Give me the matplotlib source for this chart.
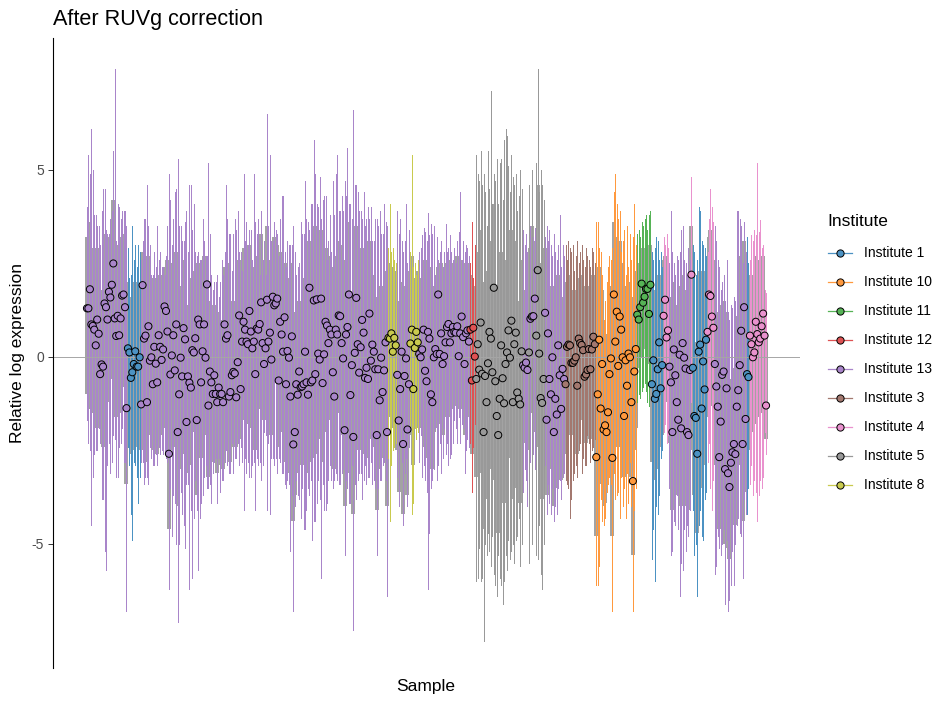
import matplotlib
matplotlib.use("Agg")
import matplotlib.pyplot as plt
import numpy as np
from matplotlib.lines import Line2D
from matplotlib.transforms import Affine2D

plt.rcParams['font.family'] = ['Liberation Sans', 'DejaVu Sans']
plt.rcParams['axes.unicode_minus'] = False

# ---------------- data ----------------
institute_names = ["Institute 1", "Institute 10", "Institute 11", "Institute 12", "Institute 13",
                   "Institute 3", "Institute 4", "Institute 5", "Institute 8"]
institute_colors = ["#4C92C3", "#FF993E", "#56B356", "#DE5253", "#A985CA",
                    "#A3786F", "#E992CE", "#999999", "#C9CA4E"]

# sample order: (institute, number of consecutive samples)
sample_runs = [
    ("Institute 13", 28), ("Institute 1", 9), ("Institute 13", 169), ("Institute 8", 6),
    ("Institute 13", 9), ("Institute 8", 6), ("Institute 13", 35), ("Institute 12", 4),
    ("Institute 5", 32),
    ("Institute 13", 4), ("Institute 5", 1), ("Institute 13", 1), ("Institute 5", 1),
    ("Institute 13", 2), ("Institute 5", 6), ("Institute 13", 14),
    ("Institute 3", 21), ("Institute 10", 28), ("Institute 11", 10), ("Institute 1", 8),
    ("Institute 4", 4), ("Institute 13", 15), ("Institute 4", 1), ("Institute 1", 10),
    ("Institute 4", 5), ("Institute 13", 22), ("Institute 1", 2), ("Institute 4", 12),
]

median = [
    1.30,1.30,1.81,0.87,0.83,0.73,0.31,1.00,0.62,-0.46,-0.20,-0.26,1.43,1.33,1.00,1.74,1.59,1.93,2.50,1.03,0.56,1.10,0.58,1.03,1.64,1.67,1.33,-1.37,
    0.23,0.12,-0.56,-0.41,-0.19,0.15,-0.26,-0.26,-0.01,
    -1.27,1.92,0.49,0.57,-1.21,0.82,-0.10,-0.01,-0.73,0.27,
    -0.18,-0.68,0.58,0.27,-0.08,0.20,1.35,1.23,0.68,-2.59,
    -0.47,0.04,0.58,-0.36,0.87,-2.01,-1.00,-0.02,-0.52,0.77,
    0.47,-1.74,-0.52,-0.69,-0.82,0.18,0.12,0.50,-1.69,1.00,
    0.87,-0.68,0.15,0.87,-0.02,1.94,-1.30,-0.39,-0.68,-0.99,
    -0.49,-0.99,-1.21,-0.82,-0.99,-0.99,-1.21,0.87,0.49,0.58,
    -1.06,-0.94,-0.49,-0.40,-0.44,-1.08,-0.14,1.11,-0.86,0.41,
    0.94,0.73,0.41,0.34,1.23,0.68,0.23,0.41,-0.46,0.76,
    0.73,0.88,1.46,
    0.37,-0.19,0.23,1.53,0.41,0.65,-0.07,1.61,1.38,1.43,
    1.56,-0.63,0.94,0.60,0.14,1.06,-0.73,0.16,-0.02,-1.06,
    0.55,-2.34,-2.01,-0.73,-1.01,-0.39,-0.81,-0.79,-0.73,0.14,
    -0.68,-1.01,1.85,-0.68,-0.63,1.51,-0.46,1.54,0.09,-0.07,
    1.56,-0.70,0.07,0.94,0.84,0.37,0.73,0.60,-0.41,-1.06,
    0.73,0.60,1.11,1.09,0.37,-0.04,-1.96,0.60,0.80,1.67,
    -1.02,-0.22,-2.14,0.11,1.58,0.34,-0.42,0.26,0.99,0.65,
    -0.56,-0.29,-0.59,1.16,-0.10,0.33,0.14,-0.33,-2.09,-0.33,
    -1.16,-0.02,-0.94,-0.36,0.39,-2.01,
    0.51,0.49,0.63,0.14,0.51,0.31,
    -0.48,-1.70,-0.86,0.14,-2.33,-0.51,-0.04,-1.94,-0.73,
    0.36,0.73,-0.86,0.24,0.67,0.39,
    0.08,-0.01,0.20,0.73,-0.37,-0.65,0.67,0.49,-1.00,-1.21,-0.01,
    0.21,0.08,1.67,0.08,0.63,-0.19,0.02,0.39,0.80,0.88,0.39,0.63,0.80,0.67,0.65,0.82,0.02,0.63,1.08,0.53,-0.19,0.63,0.71,0.41,
    0.73,-0.63,0.78,0.01,
    -0.59,0.34,-0.34,0.92,-0.45,-2.01,-0.51,-1.21,-0.17,0.67,0.49,-0.41,1.85,-0.65,-1.58,-2.09,-1.12,0.31,-0.57,-1.24,-0.19,0.12,0.71,-0.02,0.97,-1.21,0.34,0.65,-0.95,-1.12,-1.27,0.15,
    -0.22,-0.29,-0.15,-0.35,0.12,1.02,1.08,1.09,1.56,0.57,2.32,0.09,-1.10,-1.23,-0.59,1.18,-1.68,0.63,-0.59,-1.00,-0.01,-2.01,-1.12,-1.54,0.31,-0.49,-1.39,-0.32,-0.59,
    -0.73,0.27,0.33,0.31,-0.16,-0.16,-0.10,-0.01,-0.77,0.49,0.37,0.32,0.18,-0.53,-0.47,-0.35,0.21,-0.33,0.20,0.54,0.34,
    -2.68,-1.00,0.46,-1.38,-0.19,-1.94,-1.83,-2.01,-1.48,-0.46,-0.04,-2.70,1.67,0.41,1.21,-0.24,1.08,0.73,-0.01,-1.58,-0.09,-0.77,0.09,-0.01,-1.21,-3.32,-0.39,0.21,
    1.13,1.00,1.33,1.96,1.45,1.61,1.82,1.82,1.15,1.93,
    -0.73,-0.09,-1.12,-0.99,-0.33,0.39,-0.84,-0.22,
    1.10,1.53,0.52,0.71,
    -0.26,-0.68,-2.01,0.20,-0.49,-1.21,-1.68,0.06,-1.91,0.37,-0.02,-0.31,-2.01,-2.09,-0.35,
    2.20,
    -0.29,-1.58,-1.63,-2.59,0.14,0.33,-1.38,-0.12,-0.87,0.46,
    0.67,1.67,1.63,1.08,0.78,
    -0.19,-0.79,-1.33,-2.68,-1.73,-0.48,-0.39,-3.00,-0.84,-3.11,-3.48,-2.83,-2.55,-2.33,-2.60,-1.33,-0.89,-0.22,0.70,-2.33,1.33,-1.66,
    -0.46,-0.54,
    0.57,0.34,-0.01,0.12,0.94,0.61,0.39,0.49,0.82,1.16,0.57,-1.30,
]

upper_whisker = [
    4.0,5.4,4.9,6.1,5.0,3.8,3.8,3.5,3.5,3.0,3.9,4.5,4.5,3.4,3.3,3.3,3.7,3.9,5.5,7.7,3.1,4.1,4.0,3.7,3.9,3.9,3.9,3.5,
    2.9,2.1,2.2,3.5,2.6,3.0,2.4,3.0,2.8,
    2.6,3.1,3.7,3.7,4.6,3.5,3.0,2.2,2.2,2.8,
    2.4,3.5,2.6,2.8,2.4,2.4,2.2,2.7,3.5,4.9,
    4.2,3.0,3.7,4.4,4.5,5.3,3.5,3.5,3.1,3.1,
    3.6,3.9,2.8,4.6,4.6,3.4,4.1,2.8,2.7,2.8,
    2.6,2.6,3.7,3.1,2.7,2.7,5.2,3.3,2.2,1.8,
    2.0,2.0,2.2,1.6,2.0,2.6,2.2,2.8,4.6,3.7,
    3.3,3.3,2.3,3.3,3.7,3.4,3.9,2.8,2.8,2.3,
    4.9,3.1,3.6,3.0,3.4,3.4,2.6,4.9,3.6,3.3,
    3.7,2.2,3.9,
    2.6,3.1,2.2,6.5,3.5,5.4,3.1,3.1,3.6,3.4,
    3.3,2.7,3.7,4.3,4.3,2.8,2.4,3.1,3.0,3.0,
    3.0,3.5,2.8,2.2,2.4,2.5,3.6,3.3,3.3,4.7,
    3.7,3.6,3.4,4.1,4.1,5.8,4.9,4.1,4.0,4.8,
    3.7,4.2,4.3,4.3,2.6,3.1,3.8,2.8,4.7,3.8,
    4.9,5.4,3.9,3.9,4.3,3.9,4.7,4.3,5.6,4.1,
    4.1,3.7,6.6,4.6,4.6,4.4,3.9,3.9,3.7,4.4,
    3.5,3.7,4.0,3.7,4.0,3.1,3.1,3.7,3.7,3.5,
    3.9,3.3,3.3,4.1,3.6,3.5,
    2.9,4.1,2.8,2.9,2.6,2.5,
    3.9,3.3,3.7,3.1,2.8,3.1,4.1,2.5,3.4,
    2.8,5.4,2.4,2.5,2.2,2.6,
    2.8,2.9,3.25,3.45,3.35,3.1,3.85,3.25,3.55,3.3,3.5,
    2.2,3.2,2.6,2.8,3.1,2.4,2.8,3.55,2.8,2.9,3.25,2.8,2.6,2.9,2.5,3.1,3.35,4.4,2.6,3.1,2.8,3.0,2.9,2.7,
    2.5,3.6,2.1,3.0,
    5.4,4.9,4.7,5.5,4.6,4.9,4.4,3.5,5.5,4.5,7.1,4.1,4.9,4.7,5.3,4.1,5.2,5.3,4.2,5.8,6.1,5.9,5.1,4.4,5.4,4.8,4.6,4.9,3.9,4.3,5.0,4.5,
    3.4,3.0,3.3,2.8,4.6,3.5,5.0,3.2,3.45,5.2,7.7,4.4,5.0,4.6,4.2,3.2,3.5,3.1,3.4,3.0,2.7,3.3,2.8,2.6,3.0,3.8,2.4,3.0,2.7,
    3.0,2.6,3.1,2.9,2.8,3.0,2.3,2.7,3.1,2.5,2.8,3.0,2.6,2.4,2.9,2.7,2.6,2.4,2.9,2.8,2.5,
    3.6,3.6,2.9,2.8,2.2,1.0,1.5,2.0,2.4,2.7,2.6,2.9,4.4,4.9,4.1,3.7,3.9,2.8,3.1,3.4,2.2,3.5,2.4,3.3,2.6,3.2,4.1,3.0,
    3.3,3.4,3.2,3.6,3.5,3.7,3.8,3.4,3.8,3.9,
    2.8,2.6,2.9,3.2,3.1,2.6,2.8,2.4,
    3.2,3.0,3.3,2.9,
    2.5,3.9,2.8,2.5,2.2,2.7,2.6,2.8,3.4,3.5,2.6,2.5,2.2,2.9,2.6,
    4.8,
    3.0,2.8,2.2,2.6,4.0,3.9,3.1,3.0,2.9,2.7,
    2.8,3.7,4.5,4.0,3.6,
    3.5,3.1,2.6,2.4,1.8,2.0,2.2,1.5,2.6,1.2,1.0,1.4,1.3,1.6,1.5,3.9,3.9,3.7,3.5,2.5,3.6,2.8,
    3.2,2.5,
    2.6,3.25,3.1,3.4,3.25,5.2,3.35,3.65,2.9,3.0,1.8,1.7,
]

lower_whisker = [
    -1.7,-2.3,-2.5,-4.5,-3.2,-2.6,-2.5,-2.5,-1.9,-2.3,-3.8,-3.8,-5.2,-5.7,-2.9,-2.3,-3.1,-2.8,-2.1,-2.2,-3.2,-3.2,-2.4,-2.3,-1.9,-2.8,-2.8,-6.8,
    -2.4,-2.9,-4.2,-4.9,-2.8,-2.9,-3.2,-3.9,-3.2,
    -2.8,-2.8,-3.4,-3.2,-3.2,-3.4,-2.4,-2.7,-2.9,-2.9,
    -2.6,-2.9,-2.4,-2.6,-2.5,-2.6,-2.6,-2.7,-2.8,-6.2,
    -3.5,-4.8,-3.7,-3.9,-5.0,-7.1,-5.0,-3.6,-4.2,-4.5,
    -5.1,-3.4,-3.4,-6.2,-4.1,-5.9,-4.3,-3.3,-4.1,-5.7,
    -4.3,-3.9,-3.7,-3.2,-2.9,-3.5,-3.5,-3.4,-3.9,-3.1,
    -2.8,-2.7,-3.9,-2.7,-3.6,-3.3,-3.3,-2.8,-2.5,-2.9,
    -3.1,-3.1,-2.3,-3.1,-2.7,-2.7,-2.3,-2.9,-2.4,-2.8,
    -4.1,-2.7,-3.1,-2.8,-3.2,-3.2,-2.9,-2.8,-4.1,-2.7,
    -2.9,-2.8,-3.3,
    -2.9,-2.0,-2.1,-4.1,-2.3,-4.2,-2.7,-2.7,-2.9,-2.7,
    -3.1,-2.7,-2.8,-3.1,-3.1,-3.4,-3.5,-3.3,-3.4,-5.2,
    -3.7,-6.8,-4.0,-3.3,-3.7,-3.8,-4.3,-3.5,-4.6,-4.6,
    -4.1,-3.5,-3.7,-3.3,-4.9,-4.4,-4.4,-3.9,-3.3,-3.8,
    -5.9,-3.4,-4.1,-4.1,-3.9,-3.3,-2.9,-3.3,-3.5,-3.3,
    -3.1,-3.3,-3.4,-3.4,-3.1,-3.0,-5.3,-3.3,-3.5,-3.9,
    -3.9,-2.9,-7.3,-3.4,-3.8,-3.3,-3.1,-3.1,-3.8,-3.3,
    -2.9,-3.4,-3.2,-3.2,-2.8,-3.4,-3.3,-3.5,-5.3,-3.5,
    -3.3,-3.3,-2.9,-2.8,-3.3,-6.4,
    -2.7,-4.4,-2.9,-2.5,-2.4,-2.3,
    -3.2,-4.0,-2.3,-2.8,-4.5,-3.1,-2.7,-4.0,-2.4,
    -1.9,-4.2,-3.9,-1.9,-2.2,-2.0,
    -2.8,-2.1,-3.2,-2.9,-3.3,-3.6,-6.2,-4.7,-3.5,-3.3,-3.0,
    -1.9,-3.3,-2.9,-2.3,-3.1,-2.7,-1.9,-2.6,-2.3,-2.9,-2.7,-2.6,-2.3,-1.7,-1.9,-2.3,-1.6,-2.3,-1.8,-1.9,-3.1,-2.5,-2.2,-2.4,
    -2.3,-3.6,-2.4,-1.8,
    -6.0,-5.9,-5.1,-6.0,-5.9,-7.6,-5.0,-5.3,-4.7,-5.2,-5.6,-4.8,-5.8,-6.1,-6.4,-5.3,-5.9,-6.1,-6.6,-6.0,-5.3,-5.7,-4.9,-5.4,-5.2,-5.0,-5.5,-4.9,-4.8,-4.3,-5.6,-5.0,
    -3.6,-3.0,-3.3,-4.0,-5.5,-2.8,-5.0,-2.6,-3.0,-5.3,-5.4,-4.5,-5.8,-6.2,-5.0,-2.9,-4.2,-3.4,-3.9,-4.2,-3.5,-4.4,-4.0,-4.2,-3.5,-3.3,-3.8,-3.2,-3.1,
    -3.3,-3.4,-3.5,-4.3,-3.8,-3.3,-3.1,-2.9,-3.2,-2.5,-2.3,-3.1,-2.7,-2.9,-2.9,-2.1,-2.3,-2.8,-2.5,-2.4,-2.2,
    -6.1,-6.1,-5.6,-3.8,-4.4,-4.5,-4.3,-3.6,-3.4,-3.2,-3.4,-6.8,-3.1,-3.8,-3.7,-3.6,-4.3,-3.2,-4.0,-3.5,-4.3,-3.1,-3.9,-2.8,-4.0,-6.8,-4.1,-3.5,
    -1.2,-1.0,-1.1,-0.9,-0.8,-0.7,-0.9,-1.2,-1.3,-0.8,
    -5.4,-4.6,-6.0,-4.0,-4.2,-3.7,-2.7,-2.5,
    -2.0,-1.8,-2.3,-2.1,
    -3.5,-5.3,-5.2,-4.4,-4.5,-3.7,-4.6,-6.4,-5.5,-5.7,-4.6,-5.2,-4.5,-4.8,-4.1,
    -1.2,
    -4.1,-5.3,-5.0,-6.4,-4.5,-4.1,-4.8,-4.9,-3.8,-3.6,
    -2.8,-2.3,-3.5,-4.1,-3.3,
    -5.8,-5.6,-4.8,-5.1,-5.3,-5.0,-4.6,-6.6,-4.9,-6.8,-6.5,-6.1,-5.2,-6.1,-5.0,-4.5,-4.3,-4.7,-4.8,-5.9,-3.8,-4.2,
    -4.2,-3.5,
    -3.4,-2.9,-3.7,-3.3,-3.6,-4.4,-3.7,-3.3,-3.5,-3.2,-2.0,-2.6,
]

upper_hinge = [
    3.2,3.1,3.6,2.9,2.7,2.6,2.3,2.9,2.6,1.5,1.8,1.7,3.3,3.0,2.8,2.9,3.2,3.4,4.2,3.0,2.5,3.0,2.6,2.9,3.2,3.3,3.1,0.7,
    2.0,1.6,1.3,1.6,1.7,2.0,1.6,1.7,1.9,
    0.7,2.8,2.4,2.5,0.8,2.7,1.8,1.7,1.2,2.1,
    1.6,1.3,2.2,2.2,1.8,2.0,2.0,2.4,2.6,-0.6,
    1.5,2.0,2.5,1.6,2.8,0.0,1.0,1.9,1.5,2.6,
    2.4,0.3,1.4,1.3,1.2,2.1,2.1,2.3,0.3,2.5,
    2.3,1.3,2.1,2.7,1.9,2.5,0.7,1.5,1.2,1.0,
    1.4,1.0,0.8,1.2,1.0,1.0,0.8,2.4,2.4,2.5,
    0.9,1.0,1.4,1.5,1.5,0.9,1.8,2.6,1.1,2.0,
    2.9,2.6,2.4,2.3,3.0,2.6,2.1,2.4,1.5,2.6,
    2.7,2.0,3.3,
    2.2,1.8,1.8,3.5,2.4,2.6,1.9,2.9,3.2,3.0,
    3.0,1.3,2.8,2.6,2.1,2.5,1.2,2.1,1.9,0.9,
    2.5,-0.4,0.0,1.2,0.9,1.5,1.2,1.2,1.2,2.1,
    1.3,0.9,3.1,1.3,1.3,3.5,1.5,3.5,2.0,1.9,
    3.4,1.3,2.0,2.9,2.3,2.3,2.7,2.4,1.5,0.9,
    2.7,2.6,3.1,3.0,2.3,1.9,0.0,2.6,2.8,3.6,
    0.9,1.7,-0.2,2.1,3.5,2.3,1.5,2.2,2.9,2.6,
    1.4,1.7,1.3,3.1,1.8,2.2,2.1,1.6,-0.1,1.6,
    0.8,1.9,1.0,1.6,2.3,0.0,
    2.4,2.5,2.4,2.0,2.3,2.2,
    1.5,0.3,1.1,2.0,-0.3,1.4,1.9,0.0,1.2,
    2.3,2.7,1.1,2.1,2.0,2.3,
    2.0,1.9,2.1,2.6,1.6,1.3,2.6,2.4,1.0,0.8,1.9,
    1.9,2.0,2.4,2.0,2.5,1.7,1.9,2.3,2.5,2.6,2.3,2.4,2.4,2.5,2.3,2.7,1.9,2.6,2.4,2.5,1.7,2.5,2.5,2.3,
    2.2,1.4,1.9,1.9,
    1.9,2.8,2.2,3.4,2.0,0.5,2.0,1.3,2.3,3.1,3.0,2.1,4.1,1.9,0.9,0.4,1.4,2.8,1.9,1.3,2.3,2.6,3.1,2.5,3.4,1.3,2.8,3.1,1.5,1.4,1.2,2.6,
    1.7,1.6,1.8,1.6,2.6,2.9,3.5,2.9,3.1,3.0,4.6,2.5,1.4,1.3,1.9,2.9,0.3,2.5,1.4,1.0,1.9,0.0,0.9,0.4,2.2,1.5,0.6,1.6,1.4,
    1.3,2.0,2.2,2.1,1.7,1.8,1.6,1.8,1.3,2.1,2.1,2.2,1.9,1.4,1.5,1.6,1.9,1.5,1.9,2.2,2.0,
    -0.6,1.0,2.4,0.6,1.8,0.2,0.3,0.0,0.6,1.5,1.9,-0.7,3.6,2.4,3.2,1.8,3.1,2.5,1.9,0.4,1.9,1.2,2.0,1.9,0.8,-1.3,1.6,2.2,
    2.3,2.2,2.5,2.9,2.6,2.8,2.9,2.8,2.4,3.0,
    1.2,1.8,0.9,1.0,1.6,2.2,1.0,1.6,
    2.6,2.7,2.3,2.4,
    1.6,1.3,0.0,2.0,1.4,0.7,0.3,1.9,0.1,2.2,1.8,1.6,-0.1,-0.1,1.5,
    3.5,
    1.7,0.4,0.3,-0.5,2.2,2.3,0.6,1.8,1.1,2.3,
    2.4,3.2,3.4,2.9,2.6,
    1.8,1.2,0.7,-0.7,0.3,1.4,1.5,-1.0,1.2,-1.1,-1.4,-0.8,-0.6,-0.3,-0.6,0.7,1.1,1.8,2.7,-0.3,3.1,0.3,
    1.5,1.3,
    2.2,2.2,1.9,2.1,2.7,2.6,2.3,2.5,2.5,2.7,1.5,0.6,
]

lower_hinge = [
    -1.0,-0.8,-0.3,-1.4,-1.3,-1.5,-1.9,-1.2,-1.4,-1.9,-2.3,-2.4,-0.8,-0.9,-1.2,-0.5,-0.6,-0.3,0.4,-1.1,-1.6,-1.0,-1.5,-1.0,-0.5,-0.4,-0.8,-3.4,
    -1.8,-1.9,-2.6,-2.5,-2.2,-1.9,-2.3,-2.4,-2.1,
    -2.5,-0.2,-1.6,-1.5,-2.8,-1.3,-2.0,-2.1,-2.5,-1.8,
    -2.2,-2.6,-1.5,-1.8,-2.1,-1.9,-0.7,-0.8,-1.4,-4.6,
    -2.5,-2.1,-1.5,-2.4,-1.2,-4.0,-3.0,-2.1,-2.6,-1.3,
    -1.6,-3.1,-2.6,-2.8,-2.9,-2.0,-2.0,-1.6,-3.7,-1.1,
    -1.2,-2.7,-2.0,-1.2,-2.1,-0.2,-3.2,-2.5,-2.7,-2.8,
    -2.4,-2.5,-3.1,-2.5,-2.9,-2.9,-3.0,-1.2,-1.6,-1.5,
    -2.8,-2.8,-2.0,-2.4,-2.3,-2.4,-2.0,-1.0,-2.2,-1.7,
    -1.2,-1.4,-1.7,-1.8,-0.9,-1.4,-1.9,-1.7,-2.5,-1.4,
    -1.4,-1.2,-0.6,
    -1.7,-1.7,-1.7,-0.6,-1.7,-1.5,-2.1,-0.5,-0.7,-0.6,
    -0.5,-2.4,-1.2,-1.5,-2.0,-1.1,-2.8,-2.0,-2.2,-3.1,
    -1.6,-4.4,-3.7,-2.8,-3.1,-2.5,-2.9,-2.9,-2.8,-2.0,
    -2.8,-3.1,-0.3,-2.8,-2.7,-0.6,-2.6,-0.6,-2.0,-2.2,
    -0.5,-2.8,-2.0,-1.2,-1.2,-1.7,-1.4,-1.5,-2.5,-3.0,
    -1.4,-1.5,-1.0,-1.0,-1.7,-2.1,-4.0,-1.5,-1.3,-0.4,
    -3.1,-2.3,-4.2,-2.0,-0.5,-1.8,-2.5,-1.8,-1.1,-1.4,
    -2.6,-2.3,-2.7,-0.9,-2.2,-1.8,-2.0,-2.4,-4.1,-2.4,
    -3.0,-2.1,-2.7,-2.4,-1.7,-4.0,
    -1.6,-1.6,-1.4,-1.9,-1.6,-1.8,
    -2.5,-3.6,-2.0,-2.0,-4.2,-2.6,-2.2,-3.7,-2.1,
    -1.5,-1.4,-2.9,-1.6,-1.5,-1.6,
    -1.9,-1.8,-1.8,-1.3,-2.4,-2.7,-1.4,-1.6,-2.9,-3.0,-2.0,
    -1.5,-1.9,-0.3,-1.8,-1.4,-2.1,-1.5,-1.6,-1.2,-1.1,-1.6,-1.4,-1.2,-1.3,-1.2,-1.2,-1.4,-1.4,-0.9,-1.4,-2.1,-1.4,-1.3,-1.6,
    -1.3,-2.6,-1.3,-1.5,
    -3.2,-2.3,-3.0,-1.8,-3.1,-4.6,-3.1,-3.8,-2.8,-1.9,-2.2,-3.0,-0.8,-3.3,-4.2,-4.7,-3.7,-2.3,-3.2,-3.9,-2.8,-2.5,-1.9,-2.7,-1.7,-3.8,-2.3,-2.0,-3.5,-3.7,-3.9,-2.5,
    -2.3,-2.3,-2.2,-2.4,-2.5,-1.0,-1.5,-0.9,-0.5,-2.0,-0.3,-2.4,-3.6,-3.8,-3.1,-0.9,-3.7,-1.4,-2.6,-3.0,-2.1,-4.0,-3.1,-3.5,-1.7,-2.5,-3.3,-2.3,-2.6,
    -2.6,-1.7,-1.6,-1.8,-2.1,-2.1,-2.0,-1.9,-2.6,-1.5,-1.5,-1.7,-1.7,-2.3,-2.3,-1.8,-1.7,-2.2,-1.7,-1.4,-1.6,
    -4.8,-3.1,-1.7,-3.4,-2.3,-4.0,-3.9,-3.3,-3.0,-2.6,-2.2,-4.8,-0.4,-1.7,-0.9,-2.4,-1.0,-1.4,-2.1,-3.2,-2.2,-2.7,-2.0,-2.1,-3.2,-5.3,-2.5,-1.9,
    -0.3,-0.2,0.0,0.5,0.2,0.3,0.5,0.4,-0.2,0.6,
    -2.8,-2.1,-3.3,-3.0,-2.4,-1.6,-2.4,-2.1,
    -0.6,-0.3,-1.2,-1.0,
    -2.3,-2.8,-4.1,-2.0,-2.6,-3.2,-3.7,-2.2,-4.0,-1.9,-2.3,-2.5,-4.0,-4.1,-2.5,
    0.6,
    -2.4,-3.7,-3.7,-4.7,-2.1,-1.9,-3.5,-2.3,-2.9,-1.6,
    -1.3,-0.3,-0.4,-1.0,-1.3,
    -2.4,-2.9,-3.4,-4.6,-3.8,-2.6,-2.5,-5.0,-2.9,-5.1,-5.4,-4.8,-4.5,-4.3,-4.5,-3.4,-2.9,-2.3,-1.4,-4.4,-0.7,-3.6,
    -2.5,-2.5,
    -1.4,-1.5,-2.0,-1.8,-1.1,-1.4,-1.6,-1.5,-1.2,-0.8,-1.2,-2.2,
]

# ---------------- build ----------------
institute = [name for name, n in sample_runs for _ in range(n)]
n = len(institute)
lens = dict(median=len(median), uw=len(upper_whisker), lw=len(lower_whisker),
            uh=len(upper_hinge), lh=len(lower_hinge), inst=n)
assert len(set(lens.values())) == 1, lens

color_of = dict(zip(institute_names, institute_colors))
sample = np.arange(1, n + 1)
cols = [color_of[i] for i in institute]

W, H = 953, 706
fig = plt.figure(figsize=(W / 100, H / 100), dpi=100)
fig.patch.set_facecolor("white")
ax = fig.add_axes([53 / W, 1 - 668 / H, (800 - 53) / W, (668 - 38) / H])

# grey interquartile band (wide, underneath), coloured min-max lines on top, then medians
ax.vlines(sample, lower_hinge, upper_hinge, colors="#a3a3a3", linewidth=1.5,
          antialiased=False, zorder=1)
ax.vlines(sample, lower_whisker, upper_whisker, colors=cols, linewidth=0.7,
          antialiased=False, zorder=2)
ax.axhline(0, color="#a6a6a6", linewidth=0.7, zorder=2.5)
ax.scatter(sample, median, s=26, c=cols, edgecolors="black", linewidths=0.7, zorder=3)

span = n - 1
ax.set_xlim(1 - 0.05 * span, n + 0.05 * span)
ax.set_ylim(-8.32, 8.53)
ax.set_yticks([-5, 0, 5])
ax.set_yticklabels(["-5", "0", "5"])
ax.set_xticks([])
for s in ("top", "right", "bottom"):
    ax.spines[s].set_visible(False)
ax.spines["left"].set_linewidth(0.8)
ax.spines["left"].set_color("black")
ax.tick_params(axis="y", length=3.5, width=0.7, color="#333333", labelcolor="#4d4d4d",
               labelsize=10, pad=3)

fig.text(53 / W, 1 - 20 / H, "After RUVg correction", fontsize=15.6, ha="left", va="center")
fig.text(426 / W, 1 - 687 / H, "Sample", fontsize=12.5, ha="center", va="center")
fig.text(18 / W, 1 - 353 / H, "Relative log expression", fontsize=12.5, rotation=90,
         ha="center", va="center")

# legend
px = Affine2D().scale(1 / W, -1 / H).translate(0, 1) + fig.transFigure
fig.text(827 / W, 1 - 222 / H, "Institute", fontsize=12.5, ha="left", va="center")
for i, (name, c) in enumerate(zip(institute_names, institute_colors)):
    y = 253 + 29 * i
    fig.add_artist(Line2D([828, 852], [y, y], transform=px, color=c, linewidth=0.9))
    fig.add_artist(Line2D([840], [y], transform=px, marker="o", markersize=5.2,
                          markerfacecolor=c, markeredgecolor="black", markeredgewidth=0.7,
                          linestyle="none"))
    fig.text(864 / W, 1 - y / H, name, fontsize=10, ha="left", va="center")

fig.savefig("out.png", dpi=100, facecolor="white")
